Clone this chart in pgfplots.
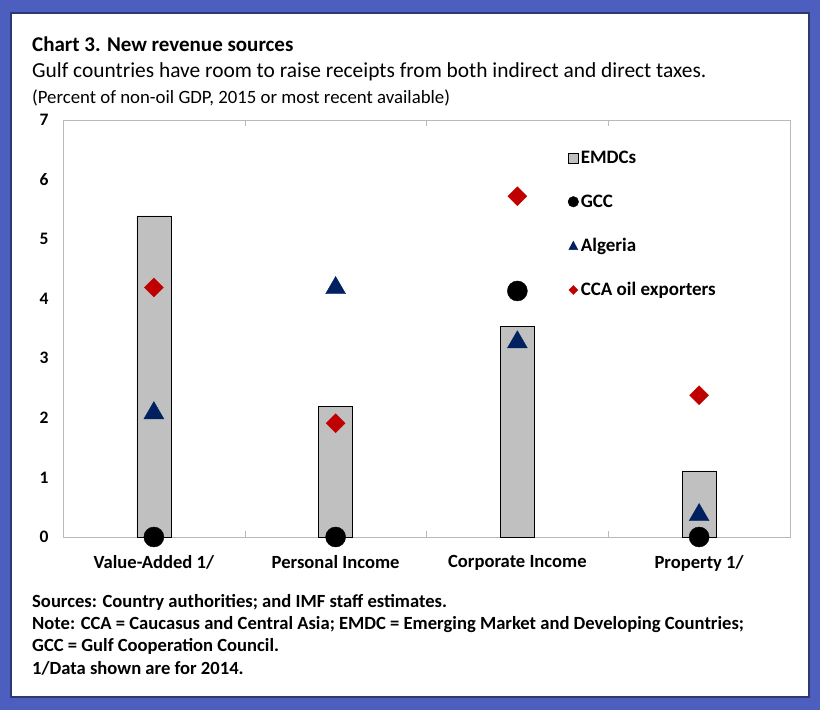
\documentclass[border=0pt]{standalone}
\usepackage{pgfplots}
\pgfplotsset{compat=1.18}
\usepackage{fontspec}
\setmainfont{Carlito}
\definecolor{bordercol}{RGB}{76,94,190}
\definecolor{axisgray}{RGB}{185,185,185}
\definecolor{barfill}{RGB}{192,192,192}
\definecolor{navy}{RGB}{0,32,96}
\definecolor{cred}{RGB}{192,0,0}
\begin{document}
\begin{tikzpicture}[x=1pt,y=1pt]
\useasboundingbox (0,0) rectangle (820,710);
\fill[bordercol] (0,0) rectangle (820,710);
\fill[white] (11,13) rectangle (809,697);
\draw[bordercol!60!black, line width=1.2pt] (11,13) rectangle (809,697);
\node[anchor=base west, inner sep=0pt, font=\bfseries\fontsize{21}{21}\selectfont] at (32,658) {Chart 3. New revenue sources};
\node[anchor=base west, inner sep=0pt, font=\fontsize{21.4}{21.4}\selectfont] at (32,632) {Gulf countries have room to raise receipts from both indirect and direct taxes.};
\node[anchor=base west, inner sep=0pt, font=\fontsize{18.8}{18.8}\selectfont] at (32,606) {(Percent of non-oil GDP, 2015 or most recent available)};
\begin{axis}[
  at={(63pt,173pt)}, anchor=south west,
  scale only axis, width=727pt, height=417pt,
  xmin=-0.5, xmax=3.5, ymin=0, ymax=7,
  ytick={0,1,...,7},
  xtick={0,1,2,3},
  xticklabels={Value-Added 1/, Personal Income, Corporate Income, Property 1/},
  minor xtick={0.5,1.5,2.5},
  major tick length=0pt,
  minor tick length=6pt,
  tick align=inside,
  tick style={axisgray},
  axis line style={axisgray},
  clip=false,
  /pgf/number format/assume math mode=true,
  ticklabel style={font=\bfseries\fontsize{17.5}{17.5}\selectfont, text=black},
  yticklabel style={xshift=-11pt},
  xticklabel style={yshift=-15pt, font=\bfseries\fontsize{18.6}{18.6}\selectfont},
  legend style={draw=none, fill=none, at={(0.69,0.935)}, anchor=north west,
    font=\bfseries\fontsize{19}{19}\selectfont, row sep=25.5pt,
    /tikz/every even column/.append style={column sep=6pt}},
  legend cell align=left,
]
\addplot[ybar, bar width=34pt, bar shift=0pt, draw=black, fill=barfill, line width=0.7pt,
  legend image code/.code={\draw[black, fill=barfill, line width=0.6pt] (0pt,-5pt) rectangle (10pt,5pt);}]
  coordinates {(0,5.39) (1,2.19) (2,3.54) (3,1.11)};
\addlegendentry{EMDCs}
\addplot[only marks, mark=*, mark size=10pt, black,
  legend image code/.code={\fill[black] (5pt,0) circle (5.3pt);}]
  coordinates {(0,0) (1,0) (2,4.13) (3,0)};
\addlegendentry{GCC}
\addplot[only marks, mark=triangle*, mark size=11.5pt, navy,
  legend image code/.code={\fill[navy] (0.5pt,-4pt) -- (9.5pt,-4pt) -- (5pt,4.5pt) -- cycle;}]
  coordinates {(0,2.08) (1,4.18) (2,3.27) (3,0.37)};
\addlegendentry{Algeria}
\addplot[only marks, mark=square*, mark size=6.7pt, cred, mark options={rotate=45},
  legend image code/.code={\fill[cred] (5pt,-4.5pt) -- (9.5pt,0) -- (5pt,4.5pt) -- (0.5pt,0) -- cycle;}]
  coordinates {(0,4.19) (1,1.91) (2,5.72) (3,2.38)};
\addlegendentry{CCA oil exporters}
\end{axis}
\begin{scope}[font=\bfseries\fontsize{18.6}{18.6}\selectfont]
\node[anchor=base west, inner sep=0pt] at (32,102) {Sources: Country authorities; and IMF staff estimates.};
\node[anchor=base west, inner sep=0pt] at (32,80) {Note: CCA = Caucasus and Central Asia; EMDC = Emerging Market and Developing Countries;};
\node[anchor=base west, inner sep=0pt] at (32,58) {GCC = Gulf Cooperation Council.};
\node[anchor=base west, inner sep=0pt] at (32,35) {1/Data shown are for 2014.};
\end{scope}
\end{tikzpicture}
\end{document}
